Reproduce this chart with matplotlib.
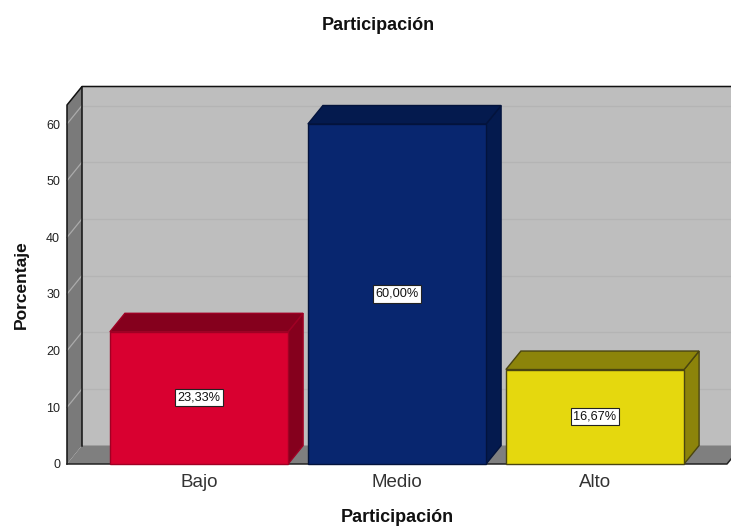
import matplotlib
matplotlib.use("Agg")
import matplotlib.pyplot as plt
from matplotlib.patches import Polygon

plt.rcParams['font.family'] = ['Liberation Sans', 'DejaVu Sans']

# Datos
categorias = ['Bajo', 'Medio', 'Alto']
porcentajes = [23.33, 60.00, 16.67]
etiquetas = ['23,33%', '60,00%', '16,67%']
ticks_y = [0, 10, 20, 30, 40, 50, 60]

# Colores (frente, lados, borde)
col_frente = ['#D90030', '#08266F', '#E5D80E']
col_lado = ['#85001D', '#041A4E', '#8C840A']
col_borde = ['#A00024', '#03133C', '#4A4510']

W, H = 731, 528
fig = plt.figure(figsize=(W / 100, H / 100), dpi=100)
# rectangulo frontal de la caja 3D, en pixeles
x0, x1, y0, y1 = 67, 727, 464, 105
ax = fig.add_axes([x0 / W, 1 - y0 / H, (x1 - x0) / W, (y0 - y1) / H])

px_x = 198.0
px_y = 340 / 60.0
ax.set_xlim((x0 - 199) / px_x, (x1 - 199) / px_x)
ax.set_ylim(0, (y0 - y1) / px_y)
xmin, xmax = ax.get_xlim()
ymax = ax.get_ylim()[1]
ancho = 0.9
dx = 15 / px_x
dy = 18.5 / px_y


def poly(pts, fc, ec='none', lw=1.0, z=1):
    ax.add_patch(Polygon(pts, closed=True, fc=fc, ec=ec, lw=lw, zorder=z, clip_on=False))


# Paredes y suelo
poly([(xmin + dx, dy), (xmax + dx, dy), (xmax + dx, ymax + dy), (xmin + dx, ymax + dy)], '#BEBEBE', z=1)
poly([(xmin, 0), (xmin + dx, dy), (xmin + dx, ymax + dy), (xmin, ymax)], '#7A7A7A', z=1)
poly([(xmin, 0), (xmax, 0), (xmax + dx, dy), (xmin + dx, dy)], '#7F7F7F', z=1)

# Rejilla
for t in ticks_y[1:]:
    ax.plot([xmin + dx, xmax + dx], [t + dy, t + dy], color='#B4B4B4', lw=0.9, zorder=2, clip_on=False)
    ax.plot([xmin, xmin + dx], [t, t + dy], color='#ABABAB', lw=0.9, zorder=2, clip_on=False)

# Contorno de la caja
ax.plot([xmin, xmin, xmin + dx, xmax + dx], [0, ymax, ymax + dy, ymax + dy], color='#111111', lw=1.1, zorder=3, clip_on=False)
ax.plot([xmin + dx, xmin + dx], [dy, ymax + dy], color='#111111', lw=1.1, zorder=3, clip_on=False)
ax.plot([xmin, xmax, xmax + dx], [0, 0, dy], color='#222222', lw=1.1, zorder=3, clip_on=False)

# Barras 3D
for i, v in enumerate(porcentajes):
    izq = i - ancho / 2
    der = i + ancho / 2
    poly([(der, 0), (der + dx, dy), (der + dx, v + dy), (der, v)], col_lado[i], col_borde[i], z=4)
    poly([(izq, v), (der, v), (der + dx, v + dy), (izq + dx, v + dy)], col_lado[i], col_borde[i], z=4)
    poly([(izq, 0), (der, 0), (der, v), (izq, v)], col_frente[i], col_borde[i], z=5)
    ax.text(i, v / 2, etiquetas[i], ha='center', va='center', fontsize=9.2, color='#111111', zorder=6,
            bbox=dict(boxstyle='square,pad=0.2', fc='white', ec='#222222', lw=0.8))

ax.set_xticks(range(len(categorias)))
ax.set_xticklabels(categorias, fontsize=13.5, color='#333333')
ax.set_yticks(ticks_y)
ax.set_yticklabels([str(t) for t in ticks_y], fontsize=9, color='#222222')
ax.tick_params(length=0)
ax.tick_params(axis='x', pad=7.5)
ax.tick_params(axis='y', pad=5)
for s in ax.spines.values():
    s.set_visible(False)
ax.patch.set_visible(False)

fig.text(378 / W, 1 - 25 / H, 'Participación', ha='center', va='center', fontsize=13, fontweight='bold', color='#111111')
fig.text(397 / W, 1 - 518 / H, 'Participación', ha='center', va='center', fontsize=13, fontweight='bold', color='#111111')
fig.text(21 / W, 1 - 285 / H, 'Porcentaje', ha='center', va='center', rotation=90, fontsize=12.5, fontweight='bold', color='#111111')

fig.savefig('out.png', dpi=100)
